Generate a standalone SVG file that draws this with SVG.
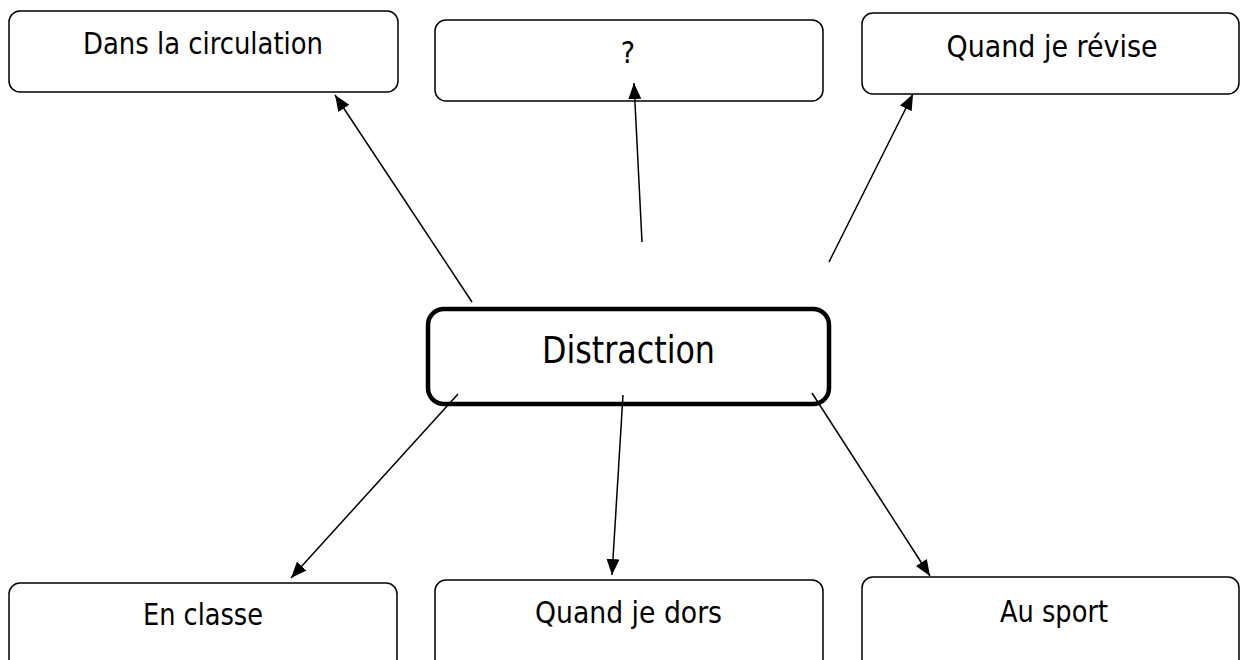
<svg xmlns="http://www.w3.org/2000/svg" width="1241" height="660" viewBox="0 0 1241 660">
<style>
.box{fill:#fff;stroke:#000;stroke-width:1.5}
.main{fill:#fff;stroke:#000;stroke-width:4.5}
.lbl{font-family:"DejaVu Sans Condensed","DejaVu Sans",sans-serif;font-size:30px;fill:#000;text-anchor:middle}
.big{font-size:37px}
.con line{stroke:#000;stroke-width:1.5;marker-end:url(#ah)}
</style>
<defs>
<marker id="ah" markerUnits="userSpaceOnUse" markerWidth="18" markerHeight="14" refX="16" refY="6.5" orient="auto">
<path d="M0,0 L16,6.5 L0,13 z" fill="#000"/>
</marker>
</defs>
<rect width="1241" height="660" fill="#fff"/>
<g id="n-circulation"><rect class="box" x="9" y="11" width="389" height="81" rx="11"/><text class="lbl" x="203" y="54" textLength="240" lengthAdjust="spacingAndGlyphs">Dans la circulation</text></g>
<g id="n-question"><rect class="box" x="435" y="20" width="388" height="81" rx="11"/><text class="lbl" x="628" y="63">?</text></g>
<g id="n-revise"><rect class="box" x="862" y="13" width="377" height="81" rx="11"/><text class="lbl" x="1052" y="57" textLength="211" lengthAdjust="spacingAndGlyphs">Quand je révise</text></g>
<g id="n-distraction"><rect class="main" x="428" y="309" width="401" height="95" rx="16"/><text class="lbl big" x="628.5" y="363" textLength="173" lengthAdjust="spacingAndGlyphs">Distraction</text></g>
<g id="n-classe"><rect class="box" x="9" y="583" width="388" height="100" rx="11"/><text class="lbl" x="203" y="625" textLength="120" lengthAdjust="spacingAndGlyphs">En classe</text></g>
<g id="n-dors"><rect class="box" x="435" y="580" width="388" height="100" rx="11"/><text class="lbl" x="628.5" y="623" textLength="187" lengthAdjust="spacingAndGlyphs">Quand je dors</text></g>
<g id="n-sport"><rect class="box" x="862" y="577" width="377" height="100" rx="11"/><text class="lbl" x="1054" y="622" textLength="108" lengthAdjust="spacingAndGlyphs">Au sport</text></g>
<g id="connectors" class="con">
<line x1="472" y1="302" x2="335" y2="95"/>
<line x1="642" y1="242" x2="634" y2="83"/>
<line x1="829" y1="262" x2="913" y2="94"/>
<line x1="458" y1="394" x2="291" y2="578"/>
<line x1="623" y1="395" x2="612" y2="575"/>
<line x1="812" y1="393" x2="930" y2="576"/>
</g>
</svg>
